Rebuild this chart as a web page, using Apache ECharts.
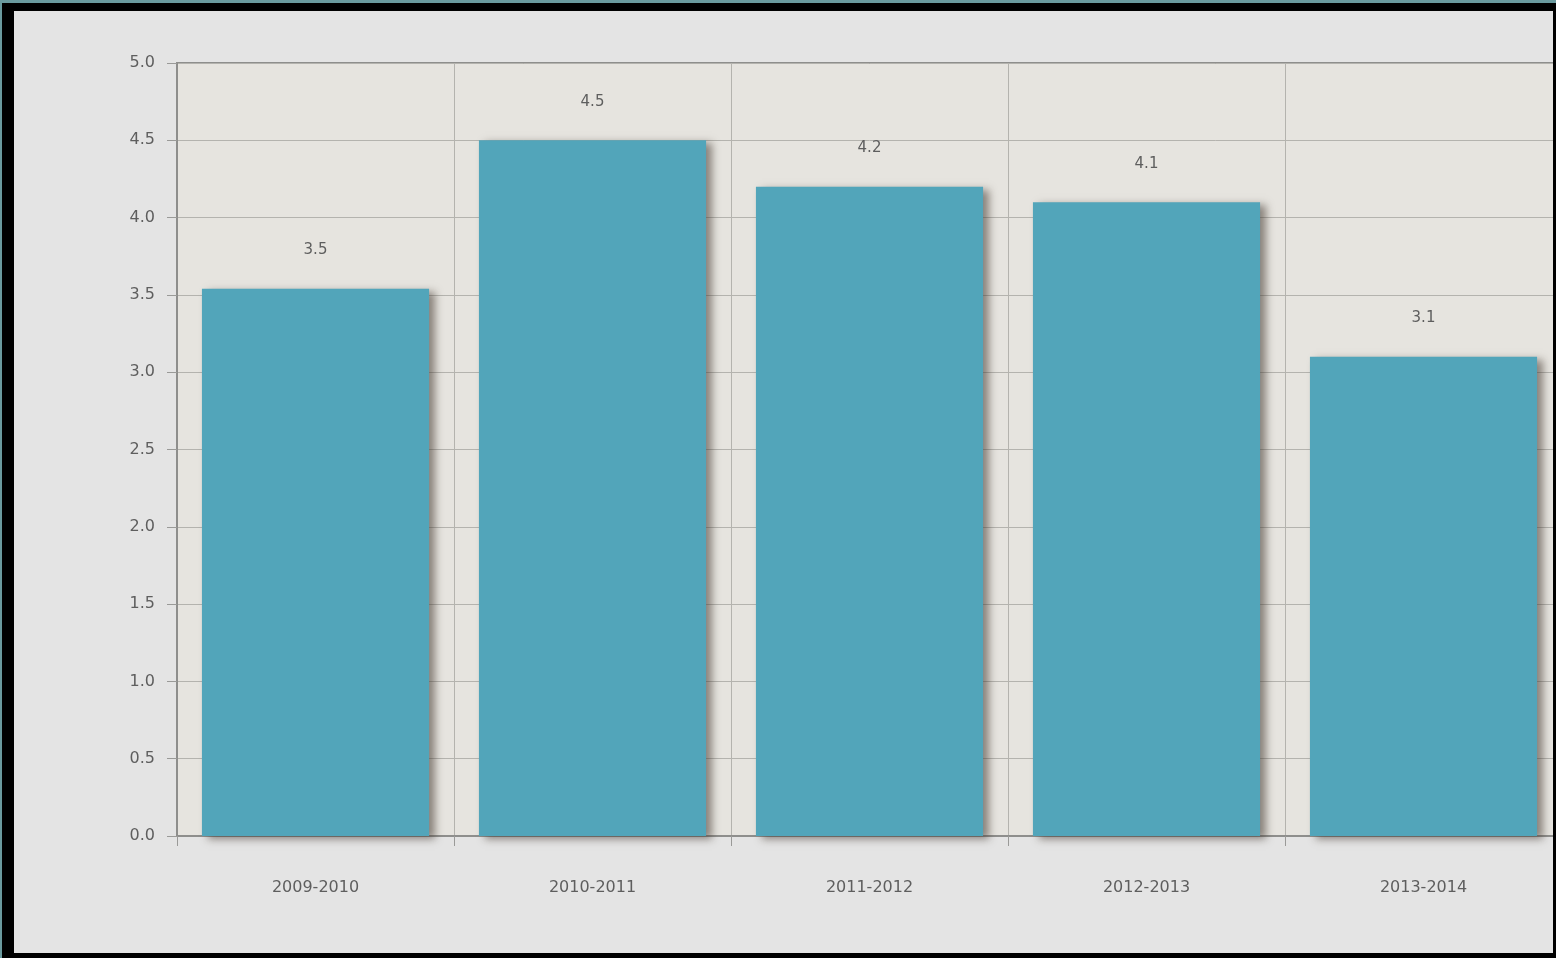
<!DOCTYPE html>
<html><head><meta charset="utf-8">
<script src="https://cdn.jsdelivr.net/npm/echarts@6/dist/echarts.min.js"></script>
<style>
html,body{margin:0;padding:0;width:1556px;height:958px;overflow:hidden;background:#000;}
#top{position:absolute;left:0;top:0;width:1556px;height:3px;background:#6a9a9e;}
#lft{position:absolute;left:0;top:0;width:2px;height:958px;background:#6a9a9e;}
#wrap{position:absolute;left:14px;top:11px;width:1539px;height:942px;overflow:hidden;background:#e4e4e4;}
#c{position:absolute;left:0;top:0;width:1580px;height:942px;}
</style></head><body>
<div id="top"></div><div id="lft"></div>
<div id="wrap"><div id="c"></div></div>
<script>
const categories = ['2009-2010','2010-2011','2011-2012','2012-2013','2013-2014'];
const values = [3.54, 4.5, 4.2, 4.1, 3.1];
const yTicks = {min:0, max:5, interval:0.5};

const chart = echarts.init(document.getElementById('c'), null, {renderer:'canvas'});
const font = '"DejaVu Sans", sans-serif';
chart.setOption({
  backgroundColor:'#e4e4e4',
  animation:false,
  grid:{left:163, top:52, width:1385, height:773, show:true, backgroundColor:'#e6e4df', borderColor:'#8e8e8c', borderWidth:2},
  xAxis:{
    type:'category', data:categories, boundaryGap:true,
    axisLine:{lineStyle:{color:'#8e8e8c', width:2}},
    axisTick:{show:true, length:10, lineStyle:{color:'#9a9a98'}},
    splitLine:{show:true, interval:0, lineStyle:{color:'#b4b3ae', width:1}},
    axisLabel:{color:'#5e5e5e', fontSize:16, fontFamily:font, margin:44}
  },
  yAxis:{
    type:'value', min:yTicks.min, max:yTicks.max, interval:yTicks.interval,
    axisLine:{show:true, lineStyle:{color:'#8e8e8c', width:2}},
    axisTick:{show:true, length:10, lineStyle:{color:'#9a9a98'}},
    splitLine:{show:true, lineStyle:{color:'#b4b3ae', width:1}},
    axisLabel:{color:'#5e5e5e', fontSize:16, fontFamily:font, margin:22, formatter:v=>v.toFixed(1)}
  },
  series:[{
    type:'bar', data:values, barWidth:'82%',
    itemStyle:{color:'#52a5ba', shadowColor:'rgba(60,50,40,0.55)', shadowBlur:8, shadowOffsetX:6, shadowOffsetY:3},
    label:{show:true, position:'top', distance:31, color:'#5e5e5e', fontSize:15, fontFamily:font, formatter:p=>p.value.toFixed(1)}
  }]
});
</script></body></html>
